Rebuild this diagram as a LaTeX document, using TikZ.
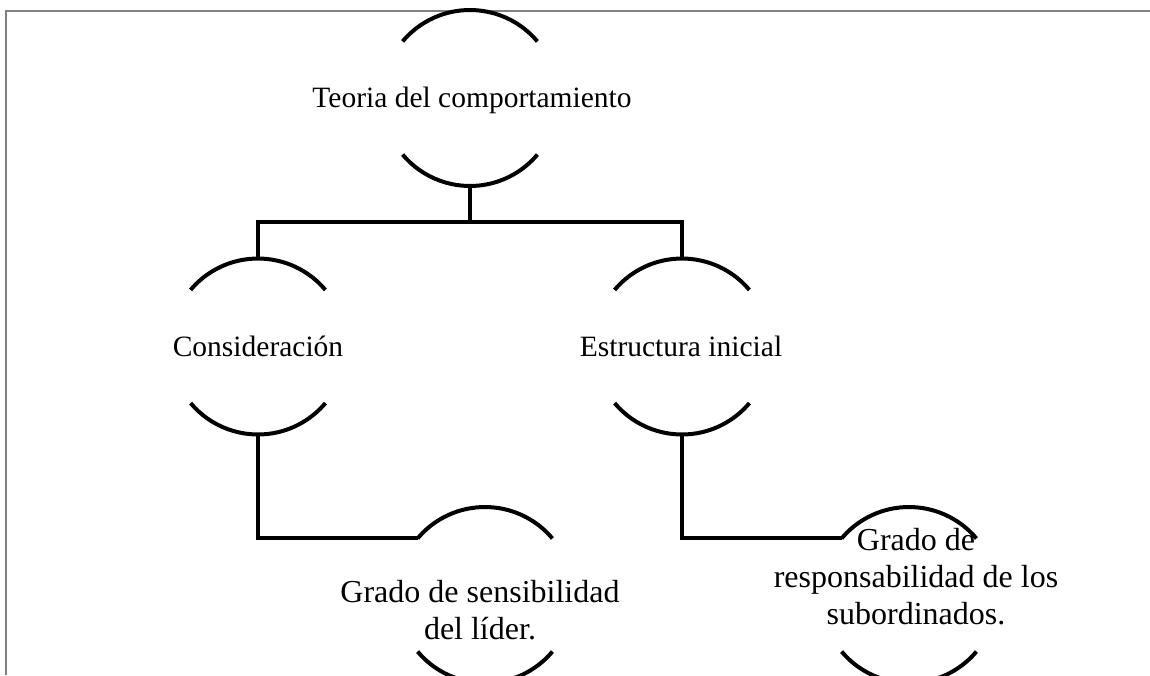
\documentclass[tikz,border=0pt]{standalone}
\usepackage{fontspec}
\setmainfont{Liberation Serif}

\tikzset{
  ring/.style={circle, minimum size=176pt, inner sep=0pt, outer sep=0pt},
  ringtext/.style={align=center, inner sep=0pt, font=\fontsize{29.5}{37}\selectfont},
  leaftext/.style={ringtext, font=\fontsize{32}{37}\selectfont},
  conn/.style={line width=4pt},
}
% top and bottom pieces of a ring
\newcommand{\ringarcs}[1]{%
  \draw[conn] (#1.40) arc[start angle=40, end angle=140, radius=88pt];
  \draw[conn] (#1.220) arc[start angle=220, end angle=320, radius=88pt];}

\begin{document}
\begin{tikzpicture}[x=1pt, y=-1pt]
            \clip (0,0) rectangle (1150,675);
            \draw[gray, line width=2pt] (6,675) -- (6,11) -- (1150,11);

            \node[ring] (teoria) at (470,98) {};
            \node[ring] (cons) at (258,346.5) {};
            \node[ring] (estr) at (682,346.5) {};
            \node[ring] (sens) at (485,595) {};
            \node[ring] (resp) at (909,595) {};
            \coordinate (split) at (470,222);

            \node[ringtext] (teoriaT) at (472,100) {Teoria del comportamiento};
            \node[ringtext] (consT) at (258,346) {Consideración};
            \node[ringtext] (estrT) at (681,346) {Estructura inicial};
            \node[leaftext] (sensT) at (480,610) {Grado de sensibilidad\\del líder.};
            \node[leaftext] (respT) at (916,577) {Grado de\\responsabilidad de los\\subordinados.};

            \ringarcs{teoria} \ringarcs{cons} \ringarcs{estr} \ringarcs{sens} \ringarcs{resp}

            \draw[conn] (teoria.south) -- (split); \draw[conn] (cons.north) |- (split) -| (estr.north);
            \draw[conn] (cons.south) |- (sens.140); \draw[conn] (estr.south) |- (resp.140);
        \end{tikzpicture}
\end{document}
